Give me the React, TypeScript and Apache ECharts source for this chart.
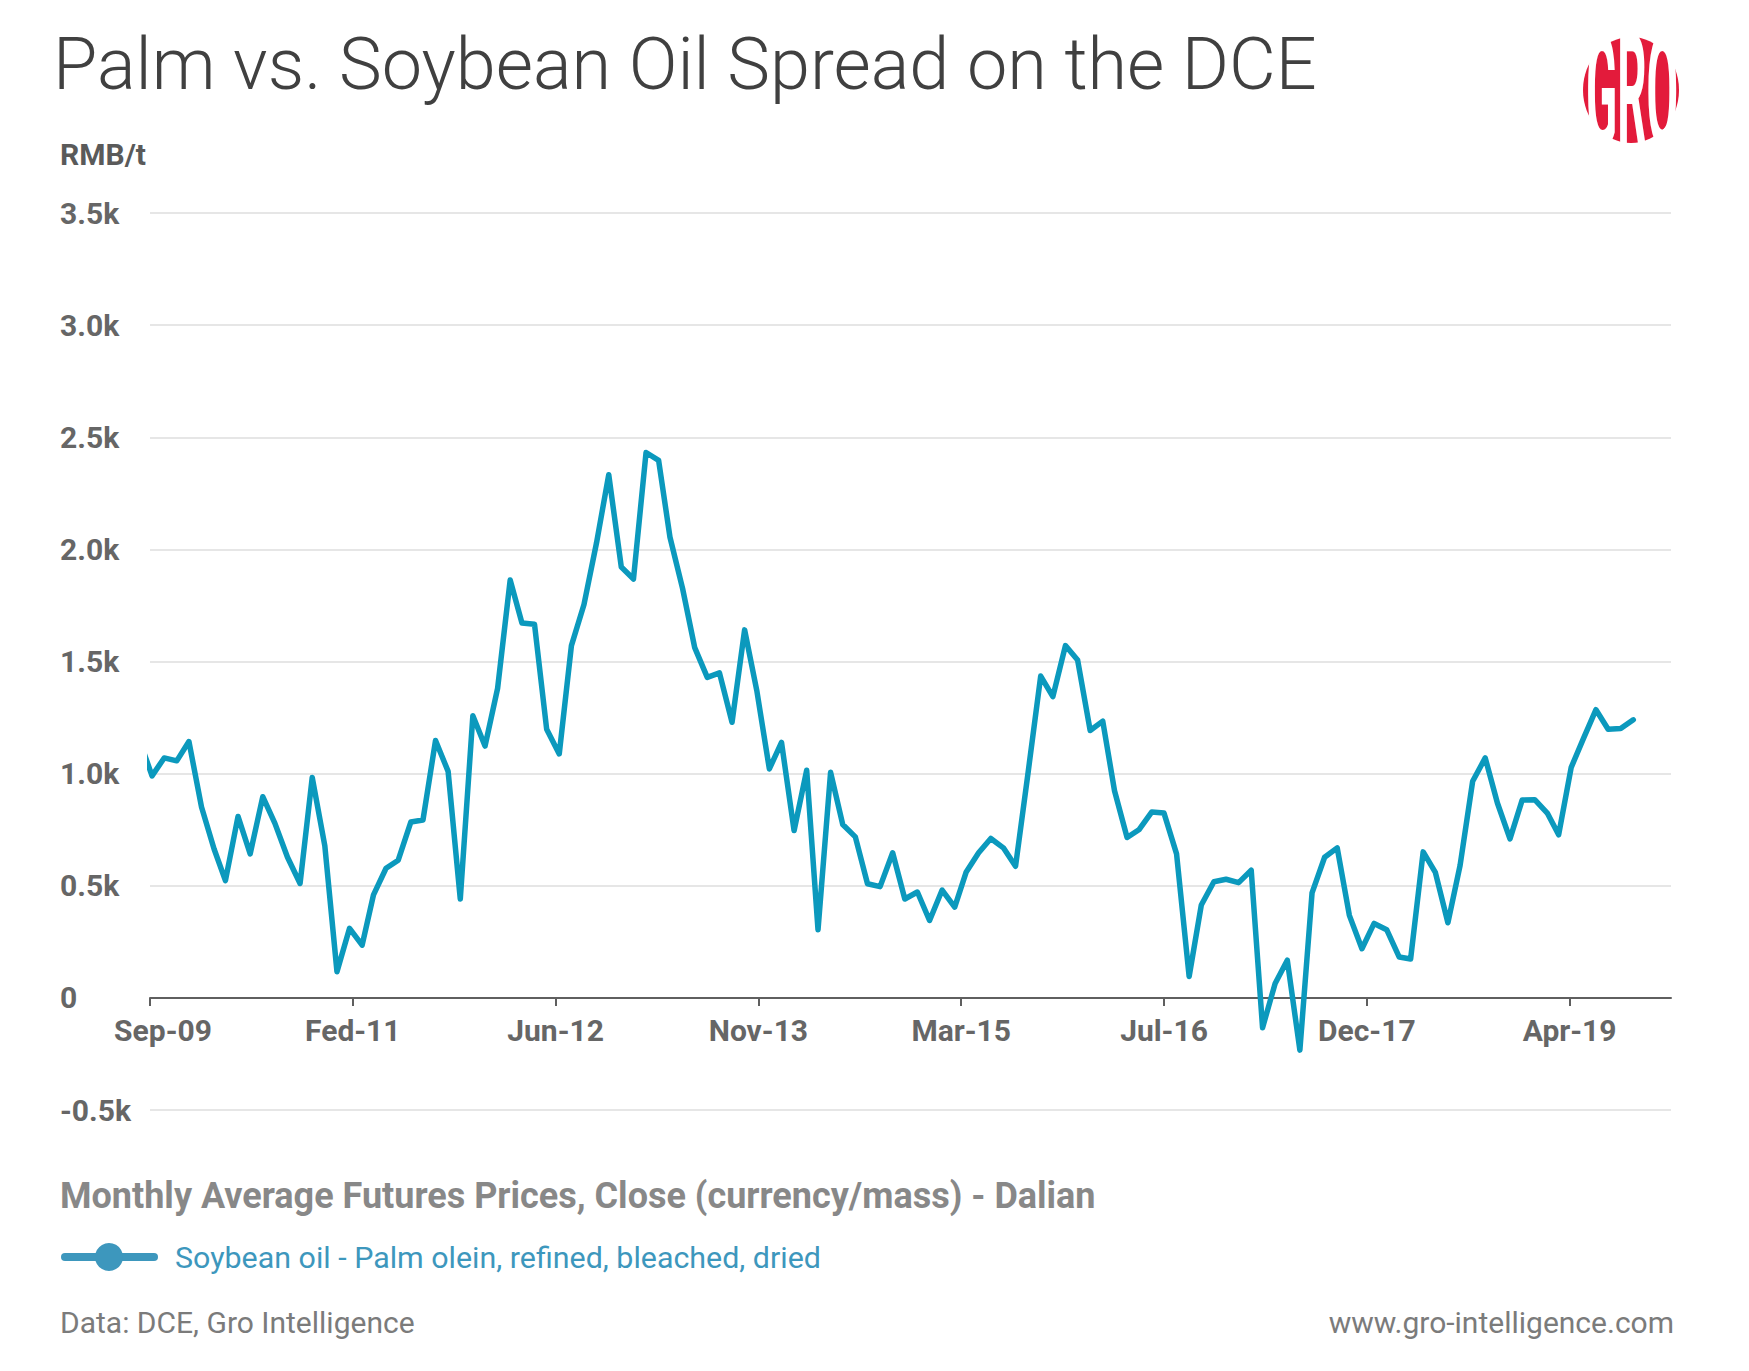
import React, { useEffect, useRef } from "react";
import * as echarts from "echarts";

// ---- data ----
const titleText = "Palm vs. Soybean Oil Spread on the DCE";
const unitText = "RMB/t";
const subtitleText = "Monthly Average Futures Prices, Close (currency/mass) - Dalian";
const seriesName = "Soybean oil - Palm olein, refined, bleached, dried";
const sourceText = "Data: DCE, Gro Intelligence";
const siteText = "www.gro-intelligence.com";

// first month of the series (Aug 2009), monthly values in RMB/t
const firstYear = 2009;
const firstMonth = 7; // 0-based (August)
const spreadValues = [
  1150, // Aug-09 (mostly outside the plot)
  990, 1070, 1057, 1143, // Sep-Dec 2009
  851, 664, 523, 809, 642, 897, 778, 627, 510, 983, 678, 117, // 2010
  310, 235, 459, 578, 614, 784, 793, 1148, 1010, 441, 1258, 1123, // 2011
  1380, 1863, 1672, 1666, 1198, 1088, 1571, 1754, 2030, 2333, 1921, 1868, // 2012
  2432, 2397, 2054, 1826, 1562, 1429, 1449, 1229, 1641, 1371, 1021, 1139, // 2013
  746, 1015, 304, 1006, 773, 718, 509, 496, 647, 441, 472, 345, // 2014
  481, 405, 560, 647, 711, 669, 587, 1006, 1435, 1343, 1571, 1507, // 2015
  1192, 1234, 924, 715, 751, 829, 824, 642, 95, 414, 518, 529, // 2016
  514, 569, -133, 64, 168, -233, 468, 627, 669, 368, 219, 332, // 2017
  304, 182, 173, 651, 560, 335, 591, 966, 1070, 869, 709, 882, // 2018
  884, 824, 727, 1028, 1156, 1285, 1198, 1201, 1240, // 2019
];

// x axis: days counted from the first tick date, ticks every 500 days
const axisStart = [2009, 7, 27];
const tickDays = 500;
const axisEndDays = 3750;
const xTickLabels = ["Sep-09", "Fed-11", "Jun-12", "Nov-13", "Mar-15", "Jul-16", "Dec-17", "Apr-19"];

// y axis
const yMin = -500;
const yMax = 3500;
const yStep = 500;

const DAY = 86400000;
const startMs = Date.UTC(axisStart[0], axisStart[1], axisStart[2]);
const seriesData = spreadValues.map((v, i) => {
  const ms = Date.UTC(firstYear, firstMonth + i, 1);
  return [(ms - startMs) / DAY, v];
});
const tickValues = xTickLabels.map((_, i) => i * tickDays);

export default function App() {
  const ref = useRef<HTMLDivElement>(null);

  useEffect(() => {
    if (!ref.current) return;
    const chart = echarts.init(ref.current, null, { renderer: "svg" });
    const font = "Roboto, 'Noto Sans', sans-serif";
    const labelStyle = { fontSize: 30, fontWeight: "bold", fontFamily: font, color: "#666666" };
    const option: any = {
      animation: false,
      backgroundColor: "#ffffff",
      grid: { left: 150, right: 78, top: 213, bottom: 261, containLabel: false },
      xAxis: {
        type: "value",
        min: 0,
        max: axisEndDays,
        interval: tickDays,
        axisLine: { onZero: true, lineStyle: { color: "#5f5f5f", width: 2 } },
        axisTick: { show: true, length: 8, customValues: tickValues, lineStyle: { color: "#5f5f5f", width: 2 } },
        splitLine: { show: false },
        axisLabel: {
          customValues: tickValues,
          margin: -95,
          ...labelStyle,
          rich: {
            first: { ...labelStyle, padding: [0, 0, 0, 26] },
          },
          formatter: (v: number) => {
            const idx = Math.round(v / tickDays);
            const t = xTickLabels[idx] ?? "";
            return idx === 0 ? `{first|${t}}` : t;
          },
        },
      },
      yAxis: {
        type: "value",
        min: yMin,
        max: yMax,
        interval: yStep,
        axisLine: { show: false },
        axisTick: { show: false },
        splitLine: { lineStyle: { color: "#e6e6e6", width: 2 } },
        axisLabel: {
          align: "left",
          margin: 90,
          ...labelStyle,
          padding: [0, 0, 4, 0],
          formatter: (v: number) => (v === 0 ? "0" : (v / 1000).toFixed(1) + "k"),
        },
      },
      series: [
        {
          type: "line",
          name: seriesName,
          data: seriesData,
          symbol: "none",
          clip: true,
          lineStyle: { color: "#0b99bd", width: 5.5, join: "round", cap: "round" },
          itemStyle: { color: "#0b99bd" },
        },
      ],
      graphic: [
        {
          type: "text",
          x: 53,
          y: 64,
          style: { text: titleText, fontSize: 72, fontWeight: 300, fontFamily: font, fill: "#404040", align: "left", verticalAlign: "middle" },
        },
        {
          type: "text",
          x: 60,
          y: 154,
          style: { text: unitText, fontSize: 30, fontWeight: "bold", fontFamily: font, fill: "#5a5a5a", align: "left", verticalAlign: "middle" },
        },
        {
          type: "text",
          x: 60,
          y: 1196,
          style: { text: subtitleText, fontSize: 36, fontWeight: "bold", fontFamily: font, fill: "#888888", align: "left", verticalAlign: "middle" },
        },
        {
          type: "rect",
          shape: { x: 61, y: 1253, width: 97, height: 8, r: 4 },
          style: { fill: "#3d97bd" },
        },
        {
          type: "circle",
          shape: { cx: 109, cy: 1257, r: 14 },
          style: { fill: "#3d97bd" },
        },
        {
          type: "text",
          x: 175,
          y: 1257,
          style: { text: seriesName, fontSize: 30.4, fontFamily: font, fill: "#3d97bd", align: "left", verticalAlign: "middle" },
        },
        {
          type: "text",
          x: 60,
          y: 1322,
          style: { text: sourceText, fontSize: 30, fontFamily: font, fill: "#7b7b7b", align: "left", verticalAlign: "middle" },
        },
        {
          type: "text",
          x: 1674,
          y: 1322,
          style: { text: siteText, fontSize: 30, fontFamily: font, fill: "#7b7b7b", align: "right", verticalAlign: "middle" },
        },
        {
          type: "ellipse",
          shape: { cx: 1631, cy: 90, rx: 48, ry: 53 },
          style: { fill: "#e31b3b" },
        },
        {
          type: "text",
          x: 1632,
          y: 92,
          scaleX: 0.29,
          style: { text: "GRO", fontSize: 158, fontWeight: "bold", fontFamily: font, fill: "#ffffff", align: "center", verticalAlign: "middle" },
        },
      ],
    };
    chart.setOption(option);
    return () => chart.dispose();
  }, []);

  return <div ref={ref} style={{ position: "absolute", left: 0, top: 0, width: 1749, height: 1371 }} />;
}
